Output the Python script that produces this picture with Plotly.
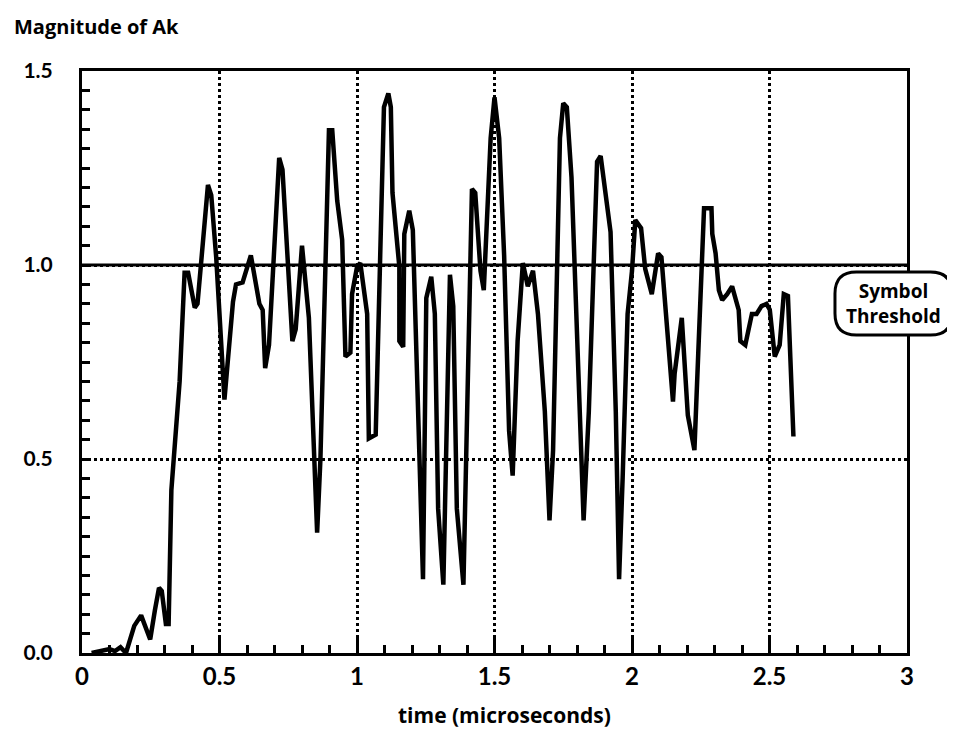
import plotly.graph_objects as go

# time (microseconds)
time_us = [0.035, 0.07, 0.10, 0.12, 0.14, 0.16,
           0.19, 0.215, 0.248, 0.265, 0.28, 0.29, 0.305, 0.315,
           0.325, 0.355, 0.373, 0.386, 0.41, 0.42, 0.458, 0.47, 0.488, 0.518,
           0.549, 0.56, 0.584, 0.614, 0.645, 0.657, 0.666, 0.68, 0.717, 0.729,
           0.765, 0.777, 0.80, 0.825, 0.837, 0.855, 0.867, 0.898, 0.91, 0.928,
           0.946, 0.958, 0.976, 0.982, 1.0,
           1.012, 1.037, 1.043, 1.068, 1.086, 1.098, 1.114, 1.123, 1.129, 1.154,
           1.154, 1.168, 1.172, 1.19, 1.203, 1.221, 1.234, 1.24, 1.252, 1.27,
           1.283, 1.295, 1.314, 1.326, 1.338, 1.35, 1.363, 1.387, 1.40, 1.418,
           1.43, 1.449, 1.461, 1.474, 1.486, 1.5, 1.517, 1.535, 1.553, 1.566,
           1.584, 1.603, 1.621, 1.64, 1.658, 1.683, 1.70, 1.713, 1.738, 1.75,
           1.763, 1.78, 1.806, 1.818, 1.824, 1.843, 1.873, 1.886, 1.922, 1.941,
           1.953, 1.966, 1.984, 2.0,
           2.012, 2.033, 2.048, 2.072, 2.095, 2.107, 2.125, 2.149, 2.155, 2.181,
           2.203, 2.227, 2.241, 2.257, 2.262, 2.289, 2.292, 2.304, 2.316, 2.328,
           2.346, 2.364, 2.388, 2.394, 2.412, 2.436, 2.453, 2.471, 2.489, 2.501,
           2.519, 2.537, 2.552, 2.567, 2.587]

# Magnitude of Ak
magnitude = [0.0, 0.005, 0.01, 0.005, 0.015, 0.0,
             0.07, 0.097, 0.035, 0.11, 0.168, 0.16, 0.075, 0.075,
             0.42, 0.70, 0.98, 0.98, 0.89, 0.90, 1.206, 1.18, 1.02, 0.653,
             0.905, 0.95, 0.955, 1.025, 0.90, 0.884, 0.734, 0.794, 1.276, 1.246,
             0.804, 0.834, 1.05, 0.864, 0.623, 0.31, 0.5, 1.347, 1.347, 1.166,
             1.065, 0.764, 0.774, 0.925, 0.995,
             1.005, 0.874, 0.553, 0.563, 1.095, 1.407, 1.442, 1.407, 1.186, 0.995,
             0.804, 0.789, 1.08, 1.14, 1.09, 0.673, 0.422, 0.19, 0.915, 0.97,
             0.874, 0.372, 0.176, 0.523, 0.975, 0.894, 0.372, 0.176, 0.663, 1.196,
             1.186, 0.985, 0.935, 1.146, 1.327, 1.432, 1.327, 1.025, 0.573, 0.457,
             0.804, 1.005, 0.945, 0.985, 0.874, 0.623, 0.342, 0.523, 1.327, 1.417,
             1.407, 1.226, 0.724, 0.447, 0.342, 0.623, 1.266, 1.281, 1.085, 0.623,
             0.19, 0.452, 0.874, 0.985,
             1.116, 1.095, 0.99, 0.925, 1.03, 1.02, 0.864, 0.648, 0.72, 0.864,
             0.613, 0.523, 0.774, 1.095, 1.146, 1.146, 1.08, 1.03, 0.935, 0.91,
             0.925, 0.945, 0.884, 0.804, 0.794, 0.874, 0.874, 0.894, 0.9, 0.885,
             0.764, 0.794, 0.925, 0.92, 0.558]

x_tickvals = [0, 0.5, 1, 1.5, 2, 2.5, 3]
x_ticktext = ["0", "0.5", "1", "1.5", "2", "2.5", "3"]
y_tickvals = [0, 0.5, 1.0, 1.5]
y_ticktext = ["0.0", "0.5", "1.0", "1.5"]
threshold = 1.0

TICKF = "Lato, Open Sans, sans-serif"
HUM = "Open Sans, Lato, sans-serif"

fig = go.Figure()
fig.add_trace(go.Scatter(x=time_us, y=magnitude, mode="lines",
                         line=dict(color="black", width=4.5), showlegend=False))

# threshold line
fig.add_shape(type="line", xref="x", yref="y", x0=0, x1=3, y0=threshold, y1=threshold,
              line=dict(color="black", width=3))

# rounded label box (paper coords)
bx0, bx1, by0, by1 = 0.9127, 1.0545, 0.5464, 0.6546
rx, ry = 0.026, 0.037
path = (f"M {bx0+rx} {by1} L {bx1-rx} {by1} Q {bx1} {by1} {bx1} {by1-ry} "
        f"L {bx1} {by0+ry} Q {bx1} {by0} {bx1-rx} {by0} "
        f"L {bx0+rx} {by0} Q {bx0} {by0} {bx0} {by0+ry} "
        f"L {bx0} {by1-ry} Q {bx0} {by1} {bx0+rx} {by1} Z")
fig.add_shape(type="path", xref="paper", yref="paper", path=path,
              fillcolor="white", line=dict(color="black", width=3), layer="above")

fig.add_annotation(xref="paper", yref="paper", x=(bx0 + bx1) / 2, y=(by0 + by1) / 2,
                   text="Symbol<br>Threshold", showarrow=False,
                   font=dict(family=HUM, size=19, color="black", weight="bold"),
                   xanchor="center", yanchor="middle")

fig.add_annotation(xref="paper", yref="paper", x=-0.085, y=1.077,
                   text="Magnitude of Ak", showarrow=False,
                   font=dict(family=HUM, size=20, color="black", weight="bold"),
                   xanchor="left", yanchor="middle")

fig.add_annotation(xref="paper", yref="paper", x=0.512, y=-0.106,
                   text="time (microseconds)", showarrow=False,
                   font=dict(family=HUM, size=21, color="black", weight="bold"),
                   xanchor="center", yanchor="middle")

fig.update_layout(
    width=947, height=722,
    margin=dict(l=74, r=48, t=63, b=77),
    paper_bgcolor="white", plot_bgcolor="white",
    xaxis=dict(range=[0, 3], tickvals=x_tickvals, ticktext=x_ticktext,
               showgrid=True, gridcolor="black", griddash="dot", gridwidth=2.5,
               ticks="inside", ticklen=16, tickwidth=3, tickcolor="black",
               minor=dict(dtick=0.1, ticks="inside", ticklen=8, tickwidth=3,
                          tickcolor="black", showgrid=False),
               showline=True, linecolor="black", linewidth=3, mirror=True,
               zeroline=False, ticklabelstandoff=0,
               tickfont=dict(family=TICKF, size=24, color="black", weight="bold")),
    yaxis=dict(range=[0, 1.5], tickvals=y_tickvals, ticktext=y_ticktext,
               showgrid=True, gridcolor="black", griddash="dot", gridwidth=2.5,
               ticks="inside", ticklen=8, tickwidth=3, tickcolor="black",
               minor=dict(dtick=0.05, ticks="inside", ticklen=8, tickwidth=3,
                          tickcolor="black", showgrid=False),
               showline=True, linecolor="black", linewidth=3, mirror=True,
               zeroline=False, ticklabelstandoff=22,
               tickfont=dict(family=TICKF, size=21, color="black", weight="bold")),
)

fig.write_html("out.html")
